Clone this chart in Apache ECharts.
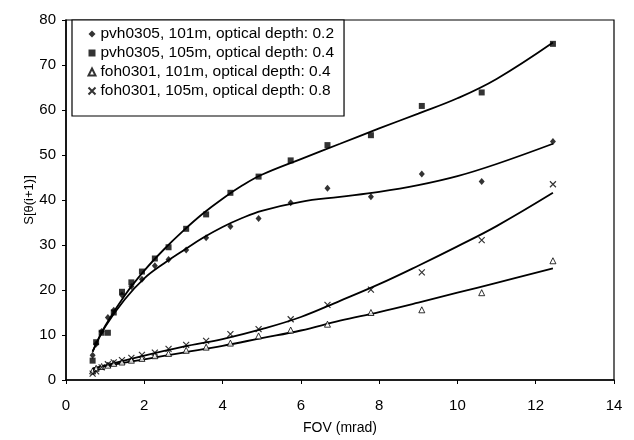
<!DOCTYPE html>
<html><head><meta charset="utf-8">
<script src="https://cdn.jsdelivr.net/npm/echarts@6/dist/echarts.min.js"></script>
<style>html,body{margin:0;padding:0;background:#fff}#c{width:634px;height:440px}</style>
</head><body><div id="c"></div>
<script>
// FOV values (mrad), shared by all measured series
const fov = [0.68,0.77,0.91,1.07,1.22,1.43,1.67,1.94,2.27,2.62,3.07,3.58,4.2,4.92,5.74,6.68,7.79,9.09,10.62,12.44];
const pvh101 = [5.5,8.0,10.8,13.9,15.5,18.9,20.8,22.4,25.4,26.8,28.9,31.6,34.1,35.9,39.4,42.6,40.7,45.8,44.1,53.0];
const pvh105 = [4.3,8.4,10.5,10.5,15.0,19.6,21.7,24.1,27.0,29.5,33.6,36.8,41.6,45.2,48.8,52.2,54.4,60.9,63.9,74.7];
const foh101 = [2.0,2.6,3.0,3.3,3.7,4.0,4.4,4.8,5.4,5.9,6.6,7.3,8.2,9.8,11.1,12.4,15.0,15.6,19.4,26.5];
const foh105 = [1.4,1.9,2.8,3.5,3.9,4.4,4.9,5.6,6.1,6.9,7.8,8.7,10.2,11.3,13.5,16.7,20.1,23.9,31.1,43.5];
// trend curves
const fitX1 = [0.68,1,1.5,2,2.5,3,3.5,4,4.5,5,6,7,8,9,10,11,12.44];
const pvh101Fit = [6.3,11.8,17.9,22.6,25.9,28.8,31.6,34.0,36.0,37.6,39.6,40.7,41.8,43.3,45.3,48.0,52.5];
const pvh105Fit = [6.3,12.0,18.8,24.3,29.0,33.2,37.0,40.3,43.2,45.6,49.1,52.5,55.9,59.2,62.6,66.9,75.0];
const fitX2 = [0.68,2,3,4,5,6,7,8,9,10,11,12.44];
const foh101Fit = [2.6,4.6,6.1,7.6,9.3,11.0,13.2,15.1,17.2,19.4,21.6,24.8];
const foh105Fit = [2.5,5.4,7.4,9.1,11.3,14.0,17.6,21.3,25.4,29.7,34.2,41.6];
const names = ['pvh0305, 101m, optical depth: 0.2','pvh0305, 105m, optical depth: 0.4','foh0301, 101m, optical depth: 0.4','foh0301, 105m, optical depth: 0.8'];

const pair = (xs, ys) => xs.map((x, i) => [x, ys[i]]);
const FONT = 'Liberation Sans, Arial, sans-serif';
const crossPath = 'path://M0,0L10,10M10,0L0,10';

const chart = echarts.init(document.getElementById('c'), null, {renderer: 'canvas'});
const fitLine = (xs, ys) => ({
  type: 'line', data: pair(xs, ys), smooth: 0.4, symbol: 'none', silent: true,
  lineStyle: {color: '#000', width: 1.8}, z: 2
});
chart.setOption({
  animation: false,
  backgroundColor: '#fff',
  grid: {left: 66, right: 20, top: 20, bottom: 59, show: true, borderColor: '#000', borderWidth: 1.2, backgroundColor: 'transparent'},
  legend: {
    data: names, orient: 'vertical', left: 72, top: 20,
    padding: [6, 10, 17, 14], itemGap: 3, itemWidth: 7, itemHeight: 7,
    borderColor: '#000', borderWidth: 1.2, backgroundColor: '#fff',
    textStyle: {fontFamily: FONT, fontSize: 15.5, lineHeight: 15, color: '#000', padding: [0, 0, 0, 0]}
  },
  xAxis: {
    type: 'value', min: 0, max: 14, interval: 2,
    name: 'FOV (mrad)', nameLocation: 'middle', nameGap: 41,
    nameTextStyle: {fontFamily: FONT, fontSize: 14, color: '#000'},
    axisLine: {lineStyle: {color: '#000', width: 1.5}},
    axisTick: {show: true, length: 4, lineStyle: {color: '#000'}},
    axisLabel: {fontFamily: FONT, fontSize: 15, color: '#000', margin: 18},
    splitLine: {show: false}
  },
  yAxis: {
    type: 'value', min: 0, max: 80, interval: 10,
    name: 'S[θ(i+1)]', nameLocation: 'middle', nameGap: 30, nameMoveOverlap: false,
    nameTextStyle: {fontFamily: FONT, fontSize: 13, color: '#000'},
    axisLine: {lineStyle: {color: '#000', width: 1.5}},
    axisTick: {show: true, length: 4, lineStyle: {color: '#000'}},
    axisLabel: {fontFamily: FONT, fontSize: 15, color: '#000', margin: 10},
    splitLine: {show: false}
  },
  series: [
    {name: names[0], type: 'scatter', data: pair(fov, pvh101), symbol: 'diamond', symbolSize: [6, 7], itemStyle: {color: '#000'}, z: 3},
    {name: names[1], type: 'scatter', data: pair(fov, pvh105), symbol: 'rect', symbolSize: 6, itemStyle: {color: '#000'}, z: 3},
    {name: names[2], type: 'scatter', data: pair(fov, foh101), symbol: 'triangle', symbolSize: 6, itemStyle: {color: '#fff', borderColor: '#000', borderWidth: 1}, z: 3},
    {name: names[3], type: 'scatter', data: pair(fov, foh105), symbol: crossPath, symbolSize: 6, itemStyle: {color: 'none', borderColor: '#000', borderWidth: 1.2}, z: 3},
    fitLine(fitX1, pvh101Fit),
    fitLine(fitX1, pvh105Fit),
    fitLine(fitX2, foh101Fit),
    fitLine(fitX2, foh105Fit)
  ]
});
</script></body></html>
